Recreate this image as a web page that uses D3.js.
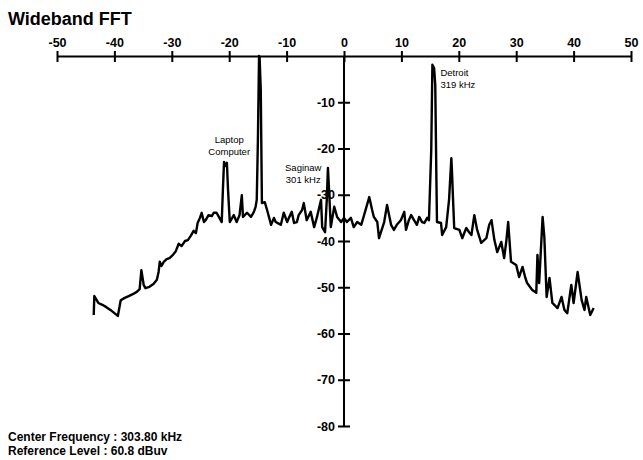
<!DOCTYPE html>
<html><head><meta charset="utf-8">
<script src="https://cdn.jsdelivr.net/npm/d3@7"></script>
<style>
body{margin:0;background:#fff;}
svg{display:block;font-family:"Liberation Sans",Arial,Helvetica,sans-serif;}
</style></head>
<body>
<script>
const title = "Wideband FFT";
const footer = ["Center Frequency : 303.80 kHz", "Reference Level : 60.8 dBuv"];
const xTicks = [-50,-40,-30,-20,-10,0,10,20,30,40,50];
const yTicks = [-10,-20,-30,-40,-50,-60,-70,-80];
// offset from center frequency (kHz)
const freq = [-43.6,-43.5,-42.8,-42.1,-41.4,-40.7,-40.0,-39.4,-38.9,-38.2,-37.5,-36.8,-36.1,-35.6,-35.3,-34.9,-34.6,-33.9,-33.2,-32.6,-32.3,-32.1,-31.8,-31.4,-30.9,-30.4,-29.8,-29.3,-28.8,-28.3,-27.7,-27.2,-26.7,-26.2,-25.8,-25.5,-25.1,-24.8,-24.4,-24.1,-23.6,-23.0,-22.7,-22.2,-21.8,-21.3,-21.1,-20.9,-20.6,-20.4,-20.2,-19.9,-19.2,-18.7,-18.2,-17.8,-17.6,-16.9,-16.2,-15.7,-15.4,-15.2,-15.0,-14.8,-14.7,-14.5,-14.3,-13.8,-13.4,-12.7,-12.2,-11.9,-11.3,-11.0,-10.5,-9.9,-9.6,-9.1,-8.7,-8.2,-7.9,-7.3,-7.0,-6.5,-5.8,-5.2,-4.7,-4.0,-3.8,-3.3,-3.0,-2.8,-2.6,-2.3,-1.7,-1.2,-0.5,0.0,0.5,1.2,1.7,2.3,3.0,3.5,4.4,4.9,5.2,5.8,6.1,7.0,7.5,8.2,8.7,9.2,9.9,10.5,10.8,11.3,11.7,12.2,12.7,13.1,13.6,14.0,14.5,14.8,15.2,15.4,15.7,15.9,16.1,16.2,16.9,17.1,17.8,18.3,18.7,18.8,19.0,19.2,20.1,20.6,21.3,21.8,22.2,22.7,23.2,23.9,24.8,25.3,25.7,26.2,26.7,27.4,27.9,28.3,28.6,29.1,30.0,30.5,31.1,31.6,31.9,32.8,33.5,33.7,34.0,34.6,34.9,35.3,35.8,36.3,37.2,37.9,38.4,38.9,39.6,40.0,40.7,41.4,41.9,42.2,42.9,43.5];
// level (dB)
const level = [-56.0,-51.9,-53.4,-53.8,-54.3,-54.9,-55.6,-56.2,-52.8,-52.3,-51.9,-51.5,-51.0,-50.4,-46.3,-49.5,-50.2,-49.9,-49.3,-48.4,-46.7,-44.5,-45.4,-44.5,-43.9,-43.7,-43.0,-42.2,-40.6,-41.1,-40.0,-39.8,-38.9,-37.8,-38.3,-36.1,-35.0,-33.9,-35.9,-35.5,-34.4,-34.6,-33.9,-33.9,-34.8,-35.9,-29.0,-22.9,-23.8,-23.1,-29.0,-35.9,-34.4,-35.9,-34.4,-30.1,-34.8,-33.9,-34.8,-33.7,-32.6,-31.1,-18.2,0.0,-0.3,-7.4,-31.8,-31.6,-33.3,-36.5,-35.0,-35.9,-36.3,-36.5,-33.9,-35.9,-35.0,-33.7,-36.1,-35.9,-34.4,-33.3,-31.8,-35.5,-33.7,-37.0,-34.8,-31.1,-37.0,-38.1,-31.1,-24.2,-29.0,-37.0,-32.6,-34.8,-35.9,-35.0,-35.9,-35.0,-37.0,-35.9,-36.5,-34.4,-30.5,-33.3,-34.8,-35.9,-39.4,-35.9,-32.2,-36.5,-37.6,-36.5,-35.5,-33.7,-37.6,-35.5,-34.4,-35.5,-36.5,-34.8,-35.9,-36.1,-35.0,-35.5,-20.3,-1.9,-2.6,-6.3,-26.8,-35.9,-36.1,-38.7,-37.0,-31.1,-22.1,-24.6,-31.1,-37.2,-37.6,-39.4,-37.2,-38.1,-38.7,-34.4,-37.6,-40.4,-39.4,-36.5,-35.5,-39.8,-42.4,-40.2,-43.7,-39.8,-35.9,-44.5,-45.2,-47.8,-45.6,-48.0,-49.1,-50.6,-51.2,-43.0,-49.1,-34.8,-39.1,-52.1,-48.0,-53.4,-54.5,-52.1,-54.9,-55.6,-49.5,-53.4,-46.7,-52.8,-54.9,-52.1,-56.0,-54.5];
const labels = [
  {text:["Laptop","Computer"], f:-20.0, db:-18.8, anchor:"middle"},
  {text:["Saginaw","301 kHz"], f:-7.1, db:-24.9, anchor:"middle"},
  {text:["Detroit","319 kHz"], f:16.8, db:-4.3, anchor:"start"}
];

const W = 643, H = 460;
const svg = d3.select("body").append("svg").attr("width", W).attr("height", H);
const x = d3.scaleLinear().domain([-50,50]).range([57,631]);
const y = d3.scaleLinear().domain([0,-80]).range([56,426]);
const fmt = d => String(d);

svg.append("text").attr("x",8).attr("y",25).attr("font-size",18).attr("font-weight","bold").text(title);

// top x axis
const gx = svg.append("g").attr("transform",`translate(0,${y(0)})`)
  .call(d3.axisTop(x).tickValues(xTicks).tickSize(5).tickSizeOuter(0).tickFormat(fmt));
gx.select(".domain").attr("stroke","#000").attr("stroke-width",2);
gx.selectAll(".tick line").attr("y1",6).attr("y2",-5).attr("stroke-width",2);
gx.selectAll(".tick text").attr("font-size",12.5).attr("font-weight","bold").attr("font-family","'Liberation Sans',Arial,sans-serif").attr("y",-9).attr("fill","#000");

// y axis at center
const gy = svg.append("g").attr("transform",`translate(${x(0)},0)`)
  .call(d3.axisLeft(y).tickValues(yTicks).tickSize(6).tickSizeOuter(0).tickFormat(fmt));
gy.select(".domain").attr("d",`M0,${y(0)}V${y(-80)}`).attr("stroke","#000").attr("stroke-width",2);
gy.selectAll(".tick line").attr("x1",-6).attr("x2",6).attr("stroke-width",2);
gy.selectAll(".tick text").attr("font-size",12.5).attr("font-weight","bold").attr("font-family","'Liberation Sans',Arial,sans-serif").attr("x",-9).attr("fill","#000");

// trace
const pts = freq.map((f,i)=>[f, level[i]]);
svg.append("path").datum(pts)
  .attr("fill","none").attr("stroke","#000").attr("stroke-width",2.4).attr("stroke-linejoin","round")
  .attr("d", d3.line().x(d=>x(d[0])).y(d=>y(d[1])));

// annotations
labels.forEach(l=>{
  const t = svg.append("text").attr("x",x(l.f)).attr("y",y(l.db)).attr("font-size",9.5)
    .attr("text-anchor",l.anchor).attr("fill","#000");
  l.text.forEach((s,i)=>t.append("tspan").attr("x",x(l.f)).attr("dy",i?12:0).text(s));
});

// footer
footer.forEach((s,i)=>svg.append("text").attr("x",8).attr("y",441+i*13.5).attr("font-size",12).attr("font-weight","bold").text(s));
</script>
</body></html>
